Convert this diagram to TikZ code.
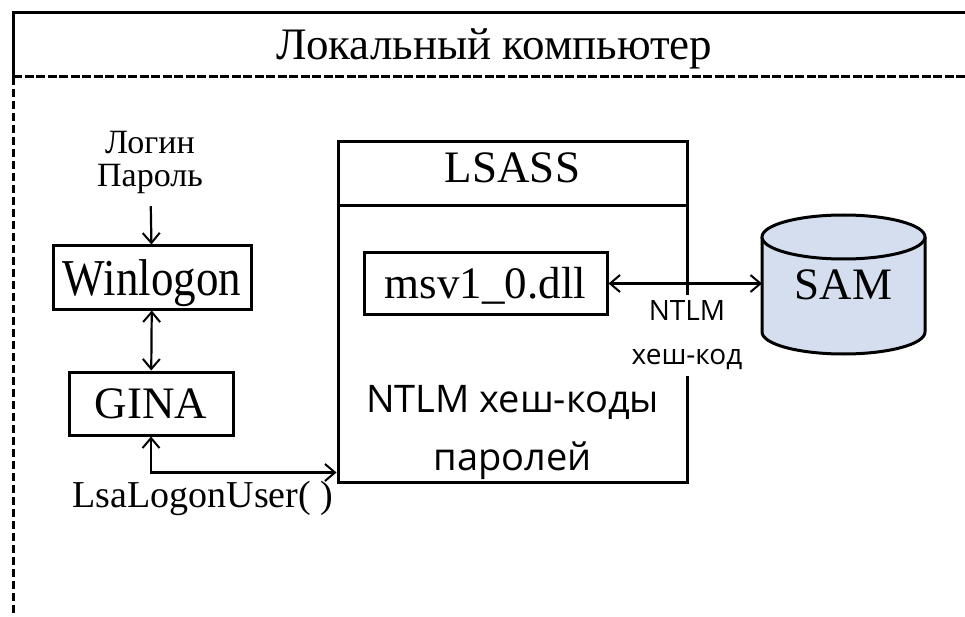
\documentclass[tikz,border=0pt]{standalone}
\usepackage{fontspec}
\usepackage{graphicx}
\setmainfont{Liberation Serif}
\newfontfamily\sansf{Open Sans}
\usetikzlibrary{arrows.meta,calc}
\definecolor{samblue}{RGB}{212,222,238}
\begin{document}
\begin{tikzpicture}[x=1pt,y=-1pt,
  frame/.style={line width=3pt},
  hdash/.style={line width=3pt, dash pattern=on 9pt off 2.5pt},
  vdash/.style={line width=3pt, dash pattern=on 8pt off 4pt},
  box/.style={draw, line width=3pt, inner sep=0pt, text height=30pt, text depth=0pt, font=\fontsize{45}{54}\selectfont},
  txt/.style={inner sep=0pt, outer sep=0pt},
  tip/.tip={Straight Barb[length=10pt,width=17pt,line width=2pt]},
  arr/.style={line width=2.2pt, -tip},
  dbl/.style={line width=2.2pt, tip-tip}
]
\useasboundingbox (0,0) rectangle (965,617);
% outer frame
\draw[frame] (965,13) -- (13,13) -- (13,77);
\draw[hdash] (13,77) -- (965,77);
\draw[vdash] (13,77) -- (13,617);
\node[txt, anchor=base, font=\fontsize{45}{52}\selectfont] (title) at (494.5,60) {Локальный компьютер};

% left column
\node[txt, align=center, font=\fontsize{34}{33}\selectfont] (login) at (150,162) {Логин\\Пароль};
\node[box, minimum width=198pt, minimum height=63pt, text height=35pt] (winlogon) at (152,277.5) {\scalebox{1}[1.15]{Winlogon}};
\node[box, minimum width=164pt, minimum height=63pt] (gina) at (151,403.5) {GINA};

% LSASS
\node[draw, line width=3pt, minimum width=349pt, minimum height=340pt, inner sep=0pt] (lsass) at (512.5,312) {};
\draw[line width=3pt] (lsass.west |- 0,206) -- (lsass.east |- 0,206);
\node[txt, anchor=base, font=\fontsize{45}{54}\selectfont] (lsasslbl) at (512.5,183) {LSASS};
\node[box, minimum width=243pt, minimum height=61pt] (msv) at (485.5,283.5) {msv1\_0.dll};
\node[txt, align=center, font=\sansf\fontsize{38}{58}\selectfont] (hashes) at (512.5,432) {NTLM хеш-коды\\паролей};

% SAM cylinder
\fill[samblue] (762,237) rectangle (925,332);
\fill[samblue] (843.5,332) ellipse[x radius=81.5, y radius=22];
\draw[line width=3pt] (762,237) -- (762,332) arc[start angle=180, end angle=0, x radius=81.5, y radius=22] -- (925,237);
\filldraw[line width=3pt, fill=samblue] (843.5,237) ellipse[x radius=81.5, y radius=22];
\node[txt, minimum width=163pt, minimum height=139pt, text height=30pt, text depth=0pt, font=\fontsize{45}{54}\selectfont] (sam) at (843.5,284.5) {SAM};

% connectors
\draw[arr, shorten <=13pt] (login) -- (winlogon);
\draw[dbl] (winlogon) -- (gina);
\draw[dbl] (gina.south) |- ([yshift=11pt]lsass.south west);
\draw[dbl] (msv.east) -- (msv.east -| sam.west);
\node[txt, align=center, fill=white, minimum height=81pt, font=\sansf\fontsize{28}{44}\selectfont] (ntlm) at (687,335) {NTLM\\хеш-код};
\node[txt, anchor=base, font=\fontsize{38}{46}\selectfont] (lsalogon) at (203,507) {LsaLogonUser( )};
\end{tikzpicture}
\end{document}
